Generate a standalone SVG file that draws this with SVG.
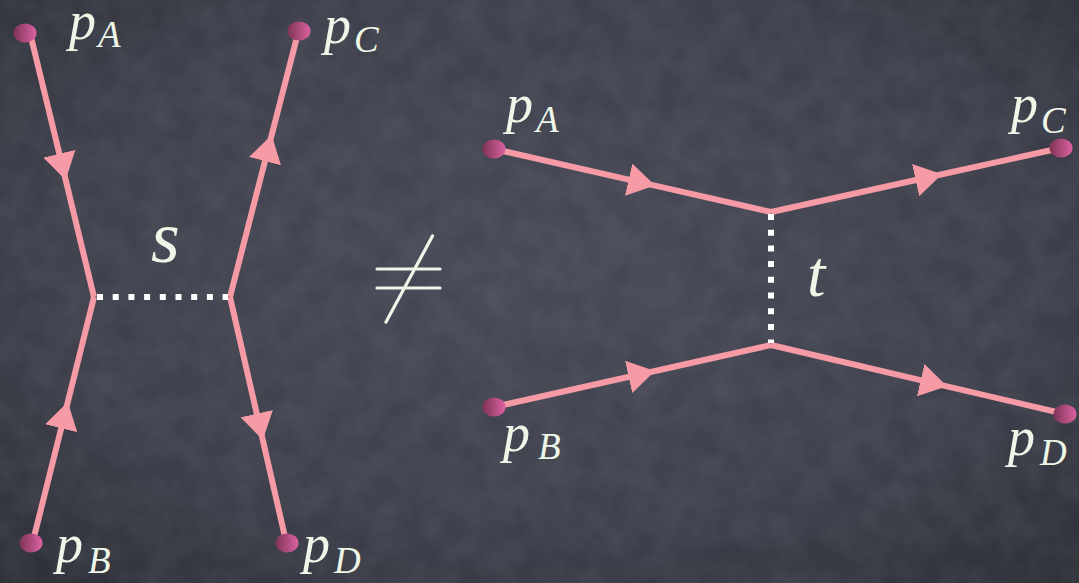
<svg xmlns="http://www.w3.org/2000/svg" width="1079" height="583" viewBox="0 0 1079 583">
  <defs>
    <radialGradient id="bg" cx="50%" cy="45%" r="75%">
      <stop offset="0" stop-color="#474a56"/>
      <stop offset="0.6" stop-color="#3e414c"/>
      <stop offset="1" stop-color="#2c2e36"/>
    </radialGradient>
    <linearGradient id="dot" x1="0" y1="0" x2="1" y2="0">
      <stop offset="0" stop-color="#7e3355"/>
      <stop offset="1" stop-color="#dc63a2"/>
    </linearGradient>
    <filter id="noise" x="0" y="0" width="100%" height="100%">
      <feTurbulence type="fractalNoise" baseFrequency="0.035" numOctaves="4" seed="7"/>
      <feColorMatrix type="matrix" values="0 0 0 0 0.7  0 0 0 0 0.72  0 0 0 0 0.82  0.12 0 0 0 -0.03"/>
    </filter>
    <marker id="arrow" viewBox="0 0 27 33" refX="27" refY="16.5" markerWidth="27" markerHeight="33" markerUnits="userSpaceOnUse" orient="auto">
      <path d="M0,0 L27,16.5 L0,33 Z" fill="#f69aa5"/>
    </marker>
    <style>
      .fl { fill: none; stroke: #f69aa5; stroke-width: 6; stroke-linejoin: miter; marker-mid: url(#arrow); }
      .dash { fill: none; stroke: #ffffff; stroke-width: 6; stroke-dasharray: 6 9.7; }
      .dot { fill: url(#dot); }
      .lab { fill: #eef6e8; font-family: 'Liberation Serif', 'Times New Roman', serif; font-style: italic; }
    </style>
  </defs>

  <rect width="1079" height="583" fill="url(#bg)"/>
  <rect width="1079" height="583" filter="url(#noise)"/>

  <g id="connectors">
    <path class="fl" d="M31,37 L65.7,180 L94,297"/>
    <path class="fl" d="M34,537 L67.8,402 L94,297"/>
    <path class="fl" d="M230,297 L271.7,135 L297,37"/>
    <path class="fl" d="M230,297 L262.8,440 L285,537"/>
    <path class="dash" d="M97,297 L228,297"/>
    <path class="fl" d="M494,149 L655,185.6 L771,212"/>
    <path class="fl" d="M771,212 L942,174.3 L1061,148"/>
    <path class="fl" d="M494,407 L655,371 L771,345"/>
    <path class="fl" d="M771,345 L947,386.3 L1065,414"/>
    <path class="dash" d="M771,214 L771,343"/>
  </g>

  <g id="left-pA">
    <ellipse class="dot" cx="25" cy="33" rx="11.5" ry="9.5"/>
    <text class="lab" font-size="54" x="69" y="39">p<tspan font-size="37" x="98" y="47">A</tspan></text>
  </g>
  <g id="left-pC">
    <ellipse class="dot" cx="299" cy="31" rx="11.5" ry="9.5"/>
    <text class="lab" font-size="54" x="324" y="43">p<tspan font-size="37" x="354" y="52">C</tspan></text>
  </g>
  <g id="left-pB">
    <ellipse class="dot" cx="31" cy="543" rx="11.5" ry="9.5"/>
    <text class="lab" font-size="54" x="56" y="562">p<tspan font-size="37" x="88" y="573">B</tspan></text>
  </g>
  <g id="left-pD">
    <ellipse class="dot" cx="287" cy="543" rx="11.5" ry="9.5"/>
    <text class="lab" font-size="54" x="303" y="562">p<tspan font-size="37" x="334" y="573">D</tspan></text>
  </g>
  <g id="label-s">
    <text class="lab" font-size="74" x="151" y="262">s</text>
  </g>

  <g id="neq">
    <path d="M377,269 L440,269 M377,288 L440,288 M432.5,236 L386,322" fill="none" stroke="#eef6e8" stroke-width="3.2" stroke-linecap="round"/>
  </g>

  <g id="right-pA">
    <ellipse class="dot" cx="494" cy="149" rx="11.5" ry="9.5"/>
    <text class="lab" font-size="54" x="506" y="122">p<tspan font-size="37" x="536" y="132">A</tspan></text>
  </g>
  <g id="right-pC">
    <ellipse class="dot" cx="1061" cy="148" rx="11.5" ry="9.5"/>
    <text class="lab" font-size="54" x="1011" y="122">p<tspan font-size="37" x="1041" y="133">C</tspan></text>
  </g>
  <g id="right-pB">
    <ellipse class="dot" cx="494" cy="407" rx="11.5" ry="9.5"/>
    <text class="lab" font-size="54" x="503" y="451">p<tspan font-size="37" x="538" y="459">B</tspan></text>
  </g>
  <g id="right-pD">
    <ellipse class="dot" cx="1065" cy="414" rx="11.5" ry="9.5"/>
    <text class="lab" font-size="54" x="1008" y="455">p<tspan font-size="37" x="1040" y="465">D</tspan></text>
  </g>
  <g id="label-t">
    <text class="lab" font-size="66" x="807" y="296">t</text>
  </g>
</svg>
